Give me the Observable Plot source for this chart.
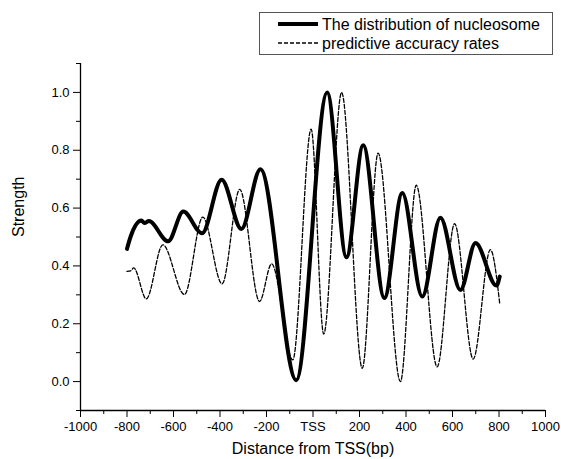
<!DOCTYPE html>
<html>
<head>
<meta charset="utf-8">
<script src="https://cdn.jsdelivr.net/npm/d3@7"></script>
<script src="https://cdn.jsdelivr.net/npm/@observablehq/plot@0.6"></script>
<style>
  html, body { margin: 0; padding: 0; background: #fff; }
  #chart { position: relative; width: 561px; height: 459px; }
  svg { font-family: "Liberation Sans", Arial, sans-serif; }
</style>
</head>
<body>
<div id="chart"></div>
<script>
// Series 1: the distribution of nucleosome (thick solid)
const nucPos = [-800, -785, -738, -725, -706, -623, -558, -477, -393, -308, -226, -72, 61, 144, 216, 307, 384, 470, 548, 634, 699, 789, 803];
const nucVal = [0.459, 0.50, 0.557, 0.548, 0.555, 0.485, 0.588, 0.513, 0.698, 0.528, 0.734, 0.005, 1.0, 0.43, 0.817, 0.289, 0.652, 0.294, 0.567, 0.317, 0.479, 0.332, 0.363];

// Series 2: predictive accuracy rates (thin dashed)
const accPos = [-800, -785, -771, -717, -646, -553, -474, -391, -315, -230, -178, -87, -8, 46, 123, 212, 280, 376, 444, 534, 609, 689, 763, 803];
const accVal = [0.381, 0.383, 0.393, 0.286, 0.473, 0.301, 0.569, 0.338, 0.665, 0.277, 0.407, 0.075, 0.873, 0.164, 1.0, 0.046, 0.79, 0.0, 0.679, 0.051, 0.546, 0.078, 0.456, 0.27];

const seriesNames = ["The distribution of nucleosome", "predictive accuracy rates"];
const xMajor = [-1000, -800, -600, -400, -200, 0, 200, 400, 600, 800, 1000];
const xMinor = [-900, -700, -500, -300, -100, 100, 300, 500, 700, 900];
const yMajor = [0.0, 0.2, 0.4, 0.6, 0.8, 1.0];
const yMinor = [-0.1, 0.1, 0.3, 0.5, 0.7, 0.9, 1.1];
const xTitle = "Distance from TSS(bp)";
const yTitle = "Strength";

const nuc = nucPos.map((x, i) => ({x, y: nucVal[i]}));
const acc = accPos.map((x, i) => ({x, y: accVal[i]}));

const plot = Plot.plot({
  width: 561,
  height: 459,
  marginLeft: 80,
  marginRight: 16,
  marginTop: 63,
  marginBottom: 49,
  style: {fontFamily: "'Liberation Sans', Arial, sans-serif", background: "#fff"},
  x: {domain: [-1000, 1000]},
  y: {domain: [-0.1, 1.1]},
  marks: [
    Plot.axisX({ticks: xMajor, tickSize: 7, tickPadding: 4, fontSize: 13, label: null,
      tickFormat: d => d === 0 ? "TSS" : String(d), stroke: "#000", color: "#000"}),
    Plot.axisX({ticks: xMinor, tickSize: 4, tickFormat: () => "", label: null, stroke: "#000"}),
    Plot.axisY({ticks: yMajor, tickSize: 7, tickPadding: 4, fontSize: 13, label: null,
      tickFormat: d => d.toFixed(1), stroke: "#000", color: "#000"}),
    Plot.axisY({ticks: yMinor, tickSize: 4, tickFormat: () => "", label: null, stroke: "#000"}),
    Plot.ruleY([-0.1], {stroke: "#000", strokeWidth: 1.3}),
    Plot.ruleX([-1000], {stroke: "#000", strokeWidth: 1.3}),
    Plot.line(acc, {x: "x", y: "y", curve: "monotone-x", stroke: "#000", strokeWidth: 1.3, strokeDasharray: "4,2"}),
    Plot.line(nuc, {x: "x", y: "y", curve: "monotone-x", stroke: "#000", strokeWidth: 4}),
    Plot.text([xTitle], {frameAnchor: "bottom", dy: 43, fontSize: 16, fill: "#000"}),
    Plot.text([yTitle], {frameAnchor: "left", dx: -62, rotate: -90, fontSize: 16, fill: "#000"})
  ]
});

document.getElementById("chart").appendChild(plot);

// Legend inside the SVG
const svg = d3.select(plot);
const lg = svg.append("g").attr("font-family", "'Liberation Sans', Arial, sans-serif").attr("text-anchor", "start");
lg.append("rect").attr("x", 259.5).attr("y", 12.5).attr("width", 293).attr("height", 42)
  .attr("fill", "#fff").attr("stroke", "#555").attr("stroke-width", 1);
lg.append("line").attr("x1", 278).attr("x2", 318).attr("y1", 24).attr("y2", 24)
  .attr("stroke", "#000").attr("stroke-width", 4);
lg.append("line").attr("x1", 278).attr("x2", 318).attr("y1", 43).attr("y2", 43)
  .attr("stroke", "#000").attr("stroke-width", 1.3).attr("stroke-dasharray", "4,2");
lg.append("text").attr("x", 322).attr("y", 29.5).attr("font-size", 16).attr("fill", "#000").attr("text-anchor", "start").text(seriesNames[0]);
lg.append("text").attr("x", 322).attr("y", 48.5).attr("font-size", 16).attr("fill", "#000").attr("text-anchor", "start").text(seriesNames[1]);
</script>
</body>
</html>
